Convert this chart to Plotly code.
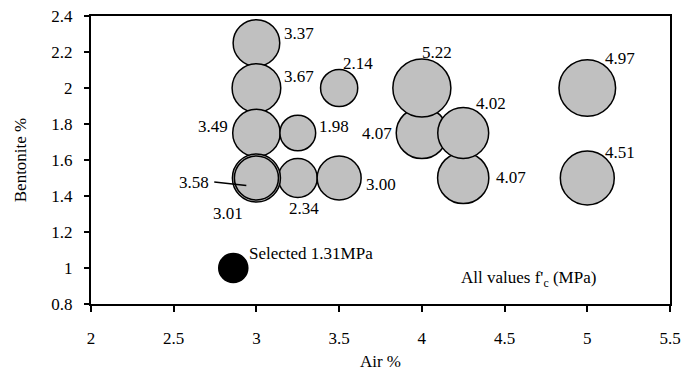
import plotly.graph_objects as go

# Data: air %, bentonite %, f'c (MPa) — drawing order matters for overlaps
air = [3.0, 3.0, 3.0, 3.25, 3.5, 3.25, 3.5, 3.0, 3.0, 4.0, 4.25, 4.25, 4.0, 5.0, 5.0]
bentonite = [2.25, 2.0, 1.75, 1.75, 2.0, 1.5, 1.5, 1.5, 1.5, 1.75, 1.5, 1.75, 2.0, 2.0, 1.5]
fc = [3.37, 3.67, 3.49, 1.98, 2.14, 2.34, 3.00, 3.58, 3.01, 4.07, 4.07, 4.02, 5.22, 4.97, 4.51]

sel_air = [2.86]
sel_bent = [1.0]
sel_fc = [1.31]

# label texts and label anchor positions (data coords)
lab_text = ["3.37", "3.67", "3.49", "1.98", "2.14", "2.34", "3.00", "3.58", "3.01",
            "4.07", "4.07", "4.02", "5.22", "4.97", "4.51"]
lab_x = [3.152, 3.152, 2.842, 3.364, 3.509, 3.285, 3.648, 2.727, 2.830,
         3.830, 4.436, 4.315, 4.091, 5.097, 5.097]
lab_y = [2.304, 2.065, 1.787, 1.787, 2.137, 1.332, 1.465, 1.475, 1.304,
         1.748, 1.504, 1.915, 2.198, 2.165, 1.642]
lab_anchor = ["left", "left", "right", "left", "left", "center", "left", "right", "center",
              "right", "left", "left", "center", "left", "left"]

FONT = '"Liberation Serif", "Times New Roman", serif'
FS = 17
SIZEREF = 0.0031

fig = go.Figure()
fig.add_trace(go.Scatter(
    x=air, y=bentonite, mode="markers",
    marker=dict(size=fc, sizemode="area", sizeref=SIZEREF, color="#C0C0C0",
                line=dict(color="black", width=1.5), opacity=1),
    hoverinfo="skip", showlegend=False, cliponaxis=False))
fig.add_trace(go.Scatter(
    x=sel_air, y=sel_bent, mode="markers",
    marker=dict(size=sel_fc, sizemode="area", sizeref=SIZEREF, color="black",
                line=dict(color="black", width=1.5), opacity=1),
    hoverinfo="skip", showlegend=False, cliponaxis=False))

annotations = []
for t, x, y, a in zip(lab_text, lab_x, lab_y, lab_anchor):
    annotations.append(dict(x=x, y=y, text=t, showarrow=False, xanchor=a, yanchor="middle",
                            font=dict(family=FONT, size=FS, color="black")))

annotations.append(dict(x=2.945, y=1.081, text="Selected 1.31MPa", showarrow=False,
                        xanchor="left", yanchor="middle",
                        font=dict(family=FONT, size=FS, color="black")))
annotations.append(dict(x=2.782, y=0.698, text="<i>2.86</i>", showarrow=False,
                        xanchor="center", yanchor="middle",
                        font=dict(family=FONT, size=FS, color="black")))
annotations.append(dict(x=4.645, y=0.937, text="All values f'<sub>c</sub> (MPa)", showarrow=False,
                        xanchor="center", yanchor="middle",
                        font=dict(family=FONT, size=FS, color="black")))

fig.update_layout(annotations=annotations)

# leader line for 3.58 label
fig.add_shape(type="line", x0=2.745, y0=1.478, x1=2.939, y1=1.459,
              line=dict(color="black", width=1.5))

fig.update_layout(
    width=682, height=374,
    margin=dict(l=91, r=12, t=16, b=70, autoexpand=False),
    paper_bgcolor="white", plot_bgcolor="white",
    font=dict(family=FONT, size=FS, color="black"),
    xaxis=dict(range=[2, 5.5], dtick=0.5, tick0=2, showgrid=False, zeroline=False,
               showline=True, linecolor="black", linewidth=2, mirror=True,
               ticks="outside", ticklen=6, tickwidth=2, tickcolor="black",
               ticklabelstandoff=12, automargin=False,
               tickfont=dict(family=FONT, size=FS, color="black"),
               title=dict(text="Air %", standoff=8, font=dict(family=FONT, size=FS))),
    yaxis=dict(range=[0.8, 2.4], dtick=0.2, tick0=0.8, showgrid=False, zeroline=False,
               showline=True, linecolor="black", linewidth=2, mirror=True,
               ticks="outside", ticklen=5, tickwidth=2, tickcolor="black",
               ticklabelstandoff=8, automargin=False,
               tickfont=dict(family=FONT, size=FS, color="black"),
               title=dict(text="Bentonite %", standoff=20, font=dict(family=FONT, size=FS))),
)

fig.write_html("out.html", config={"displayModeBar": False, "staticPlot": True},
               post_script="document.body.style.margin='0';document.body.style.overflow='hidden';")
